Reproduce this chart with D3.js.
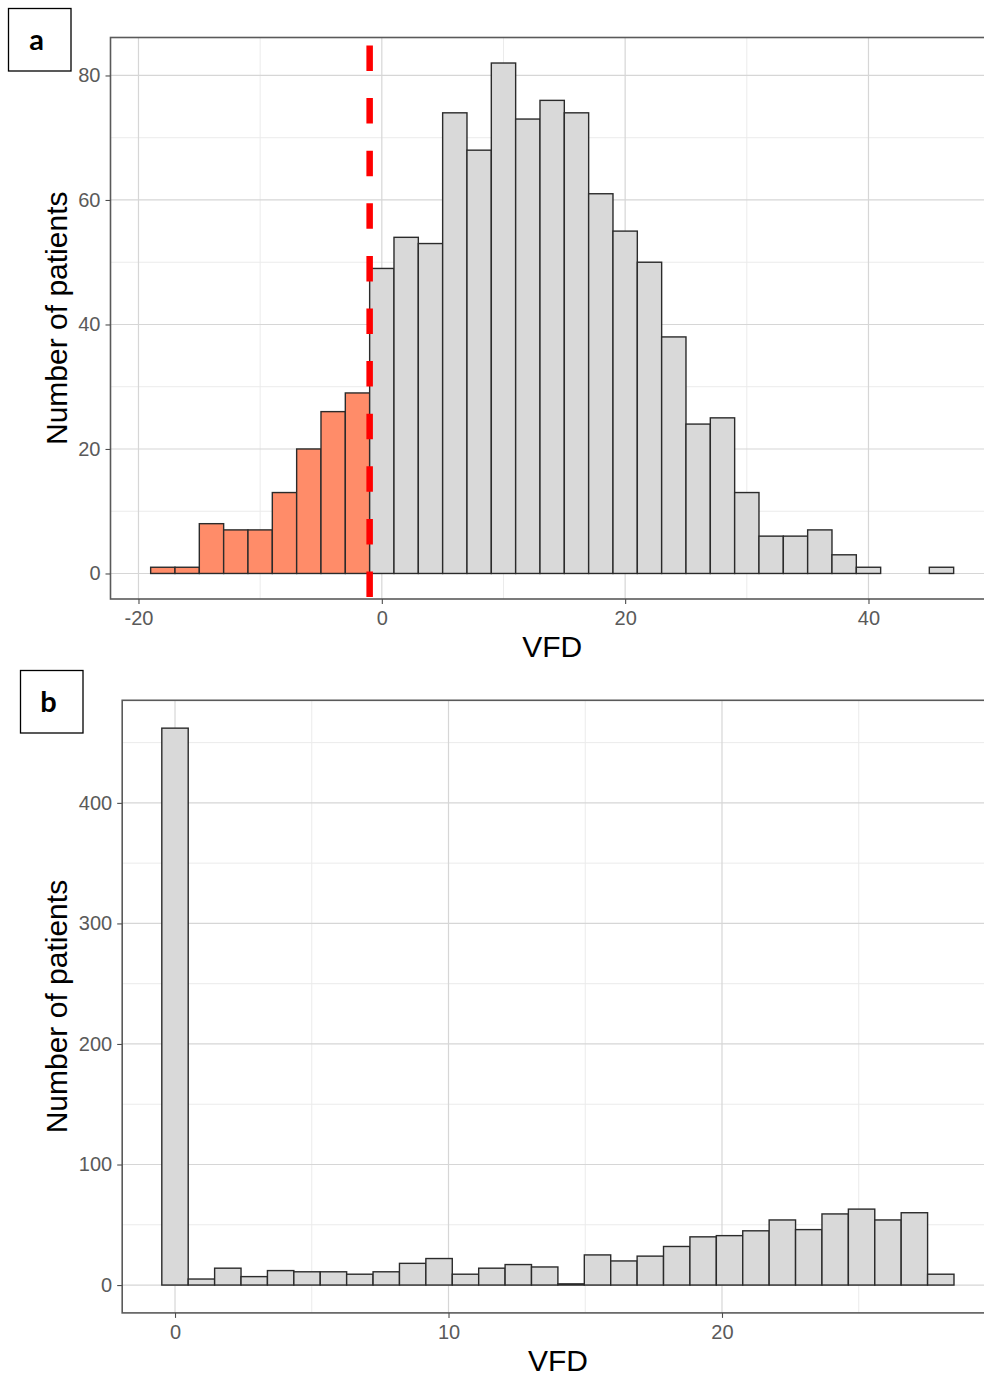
<!DOCTYPE html>
<html>
<head>
<meta charset="utf-8">
<script src="https://cdn.jsdelivr.net/npm/d3@7"></script>
<style>
  body { margin: 0; background: #fff; }
  svg { display: block; }
</style>
</head>
<body>
<svg id="chart" width="984" height="1376"></svg>
<script>
// panel a: VFD histogram, binwidth 2, bins start at -19
const binStartA = [-19, -17, -15, -13, -11, -9, -7, -5, -3, -1, 1, 3, 5, 7, 9, 11, 13, 15, 17,
                   19, 21, 23, 25, 27, 29, 31, 33, 35, 37, 39, 41, 43, 45];
const countsA = [1, 1, 8, 7, 7, 13, 20, 26, 29, 49, 54, 53, 74, 68, 82, 73, 76, 74, 61,
                 55, 50, 38, 24, 25, 13, 6, 6, 7, 3, 1, 0, 0, 1];
const binWidthA = 2;
const cutoffA = -1;
const xTicksA = [-20, 0, 20, 40];
const yTicksA = [0, 20, 40, 60, 80];

// panel b: VFD truncated at 0, 30 bins
const binCentersB = [0, 1, 2, 3, 4, 5, 6, 7, 8, 9, 10, 11, 12, 13, 14, 15, 16, 17, 18, 19,
                     20, 21, 22, 23, 24, 25, 26, 27, 28, 29].map(i => i * 28 / 29);
const countsB = [462, 5, 14, 7, 12, 11, 11, 9, 11, 18, 22, 9, 14, 17, 15, 1, 25, 20, 24, 32,
                 40, 41, 45, 54, 46, 59, 63, 54, 60, 9];
const binWidthB = 28 / 29;
const xTicksB = [0, 10, 20];
const yTicksB = [0, 100, 200, 300, 400];

const svg = d3.select('#chart');
const FONT = '"Liberation Sans", Arial, sans-serif';

function drawPanel(opt) {
    const bins = opt.starts.map((s, i) => ({ x0: s, x1: s + opt.width, n: opt.counts[i] }));
    const xmin = d3.min(bins, d => d.x0), xmax = d3.max(bins, d => d.x1);
    const ymax = d3.max(bins, d => d.n);
    const xpad = (xmax - xmin) * 0.05, ypad = ymax * 0.05;

    const x = d3.scaleLinear().domain([xmin - xpad, xmax + xpad]).range([opt.left, opt.right]);
    const y = d3.scaleLinear().domain([-ypad, ymax + ypad]).range([opt.bottom, opt.top]);

    const g = svg.append('g');

    // minor then major grid
    const minorX = opt.xTicks.slice(0, -1).map((t, i) => (t + opt.xTicks[i + 1]) / 2)
        .concat([opt.xTicks[opt.xTicks.length - 1] + (opt.xTicks[1] - opt.xTicks[0]) / 2]);
    const minorY = opt.yTicks.map(t => t + (opt.yTicks[1] - opt.yTicks[0]) / 2)
        .filter(t => t < ymax + ypad);

    g.selectAll('.minor-x').data(minorX.filter(t => x(t) > opt.left)).enter().append('line')
        .attr('x1', d => x(d)).attr('x2', d => x(d))
        .attr('y1', opt.top).attr('y2', opt.bottom)
        .attr('stroke', '#ebebeb').attr('stroke-width', 1);
    g.selectAll('.minor-y').data(minorY).enter().append('line')
        .attr('x1', opt.left).attr('x2', opt.right)
        .attr('y1', d => y(d)).attr('y2', d => y(d))
        .attr('stroke', '#ebebeb').attr('stroke-width', 1);
    g.selectAll('.major-x').data(opt.xTicks).enter().append('line')
        .attr('x1', d => x(d)).attr('x2', d => x(d))
        .attr('y1', opt.top).attr('y2', opt.bottom)
        .attr('stroke', '#d6d6d6').attr('stroke-width', 1.2);
    g.selectAll('.major-y').data(opt.yTicks).enter().append('line')
        .attr('x1', opt.left).attr('x2', opt.right)
        .attr('y1', d => y(d)).attr('y2', d => y(d))
        .attr('stroke', '#d6d6d6').attr('stroke-width', 1.2);

    // bars
    g.selectAll('.bar').data(bins).enter().append('rect')
        .attr('x', d => x(d.x0))
        .attr('width', d => x(d.x1) - x(d.x0))
        .attr('y', d => y(d.n))
        .attr('height', d => y(0) - y(d.n))
        .attr('fill', d => (opt.cutoff !== undefined && d.x1 <= opt.cutoff) ? '#FF8C69' : '#d9d9d9')
        .attr('stroke', '#2b2b2b')
        .attr('stroke-width', 1.4);

    if (opt.cutoff !== undefined) {
        g.append('line')
            .attr('x1', x(opt.cutoff)).attr('x2', x(opt.cutoff))
            .attr('y1', opt.top + 8).attr('y2', opt.bottom - 2)
            .attr('stroke', '#ff0000').attr('stroke-width', 6.5)
            .attr('stroke-dasharray', '25.5 27.1');
    }

    // panel border
    g.append('rect')
        .attr('x', opt.left).attr('y', opt.top)
        .attr('width', opt.right - opt.left).attr('height', opt.bottom - opt.top)
        .attr('fill', 'none').attr('stroke', '#5a5a5a').attr('stroke-width', 1.6);

    // axes
    const yAxis = g.append('g').attr('transform', `translate(${opt.left},0)`)
        .call(d3.axisLeft(y).tickValues(opt.yTicks).tickSize(5).tickPadding(5));
    const xAxis = g.append('g').attr('transform', `translate(0,${opt.bottom})`)
        .call(d3.axisBottom(x).tickValues(opt.xTicks).tickSize(5).tickPadding(7)
            .tickFormat(d => d < 0 ? '-' + Math.abs(d) : d));
    [xAxis, yAxis].forEach(a => {
        a.select('.domain').remove();
        a.selectAll('line').attr('stroke', '#4d4d4d').attr('stroke-width', 1.1);
        a.selectAll('text').attr('fill', '#5a5a5a')
            .style('font-family', FONT).style('font-size', '20px');
    });

    // titles
    g.append('text')
        .attr('transform', `translate(67,${(opt.top + opt.bottom) / 2}) rotate(-90)`)
        .attr('text-anchor', 'middle')
        .style('font-family', FONT).style('font-size', '30px').attr('fill', '#000')
        .text('Number of patients');
    g.append('text')
        .attr('x', (opt.left + opt.right) / 2).attr('y', opt.bottom + 58)
        .attr('text-anchor', 'middle')
        .style('font-family', FONT).style('font-size', '30px').attr('fill', '#000')
        .text('VFD');

    // panel letter box
    g.append('rect')
        .attr('x', opt.box[0]).attr('y', opt.box[1]).attr('width', 62.5).attr('height', 62.5)
        .attr('fill', '#fff').attr('stroke', '#000').attr('stroke-width', 1.3);
    g.append('text')
        .attr('x', opt.box[0] + 28).attr('y', opt.box[1] + 41)
        .attr('text-anchor', 'middle')
        .style('font-family', 'Lato, "Open Sans", sans-serif').style('font-weight', 'bold')
        .style('font-size', '29px').attr('fill', '#000')
        .text(opt.letter);
}

drawPanel({
    starts: binStartA, counts: countsA, width: binWidthA, cutoff: cutoffA,
    xTicks: xTicksA, yTicks: yTicksA,
    left: 110.5, right: 993.8, top: 37.5, bottom: 599,
    box: [8.5, 8.5], letter: 'a'
});

drawPanel({
    starts: binCentersB.map(c => c - binWidthB / 2), counts: countsB, width: binWidthB,
    xTicks: xTicksB, yTicks: yTicksB,
    left: 122.2, right: 993.6, top: 700.3, bottom: 1312.9,
    box: [20.5, 670.5], letter: 'b'
});
</script>
</body>
</html>
